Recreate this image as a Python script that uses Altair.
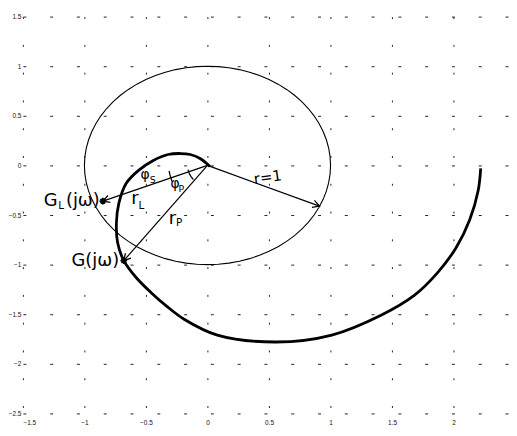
import math
import altair as alt
import pandas as pd

# ---- data ----
# Nyquist curve G(jw) (thick spiral)
spiral_x = [0.02, -0.06, -0.14, -0.22, -0.32, -0.44, -0.56, -0.66, -0.72, -0.74, -0.73,
            -0.68, -0.58, -0.46, -0.33, -0.19, 0.08, 0.56, 1.01, 1.41, 1.68, 1.87,
            2.02, 2.13, 2.20, 2.22]
spiral_y = [-0.01, 0.07, 0.11, 0.12, 0.11, 0.05, -0.05, -0.18, -0.38, -0.58, -0.78,
            -0.96, -1.13, -1.28, -1.42, -1.55, -1.71, -1.78, -1.71, -1.51, -1.31, -1.08,
            -0.83, -0.55, -0.25, -0.03]

circle_radius = 1.0

# arrows from the origin
arrow_tip_x = [0.91, -0.85, -0.68]
arrow_tip_y = [-0.41, -0.36, -0.96]

# marked points G_L(jw), G(jw)
mark_x = [-0.85, -0.68]
mark_y = [-0.36, -0.96]

# small angle arcs (pixel radius, start/end angle in degrees)
arc_radius_px = [39, 20]
arc_start_deg = [188, 192]
arc_end_deg = [205, 225]

# labels
main_text = ["G", "(jω)", "G(jω)", "r", "r"]
main_x = [-1.33, -1.15, -1.105, -0.62, -0.315]
main_y = [-0.36, -0.36, -0.96, -0.34, -0.54]
sub_text = ["L", "L", "P"]
sub_x = [-1.212, -0.56, -0.255]
sub_y = [-0.41, -0.41, -0.58]
phi_text = ["φ", "φ"]
phi_x = [-0.545, -0.30]
phi_y = [-0.10, -0.19]
phisub_text = ["S", "P"]
phisub_x = [-0.47, -0.235]
phisub_y = [-0.15, -0.24]
r1_text = ["r=1"]
r1_x = [0.49]
r1_y = [-0.12]

x_ticks = [-1.5, -1, -0.5, 0, 0.5, 1, 1.5, 2]
y_ticks = [-2.5, -2, -1.5, -1, -0.5, 0, 0.5, 1, 1.5]

# ---- layout ----
XMIN, XMAX = -1.5, 2.45
YMIN, YMAX = -2.5, 1.5
W, H = 490, 400
PXX = W / (XMAX - XMIN)
PXY = H / (YMAX - YMIN)

FONT = "DejaVu Sans"

xs = alt.Scale(domain=[XMIN, XMAX], nice=False, zero=False)
ys = alt.Scale(domain=[YMIN, YMAX], nice=False, zero=False)
ax_common = dict(format="~g", grid=True, gridColor="#222",
                 gridWidth=1, domain=False, ticks=False, labelFontSize=6.5,
                 labelFont="Liberation Sans", labelColor="#111", title=None)
X = lambda f: alt.X(f, type="quantitative", scale=xs,
                    axis=alt.Axis(values=x_ticks, labelPadding=6, gridDash=[2, 26],
                                  **ax_common))
Y = lambda f: alt.Y(f, type="quantitative", scale=ys,
                    axis=alt.Axis(values=y_ticks, labelPadding=2, minExtent=13,
                                  maxExtent=13, gridDash=[3, 24], **ax_common))

# spiral
spiral_df = pd.DataFrame({"x": spiral_x, "y": spiral_y, "o": range(len(spiral_x))})
spiral = alt.Chart(spiral_df).mark_line(color="black", strokeWidth=2.8,
                                        interpolate="catmull-rom").encode(
    x=X("x"), y=Y("y"), order="o:Q")

# unit circle
angs = [i * 5 for i in range(73)]
circle_df = pd.DataFrame({
    "x": [circle_radius * math.cos(math.radians(a)) for a in angs],
    "y": [circle_radius * math.sin(math.radians(a)) for a in angs],
    "o": list(range(len(angs)))})
circle = alt.Chart(circle_df).mark_line(color="black", strokeWidth=1.1).encode(
    x=X("x"), y=Y("y"), order="o:Q")

# arrows
arr_df = pd.DataFrame({"x0": [0.0] * 3, "y0": [0.0] * 3,
                       "x1": arrow_tip_x, "y1": arrow_tip_y})
arr_df["ang"] = [(math.degrees(math.atan2(-y * PXY, x * PXX)) + 360) % 360
                 for x, y in zip(arrow_tip_x, arrow_tip_y)]
shafts = alt.Chart(arr_df).mark_rule(color="black", strokeWidth=1.2).encode(
    x=X("x0"), y=Y("y0"), x2="x1", y2="y1")
heads = alt.Chart(arr_df).mark_point(shape="M-1,-0.55L0,0L-1,0.55", filled=False,
                                     color="black", strokeWidth=1.3, size=180,
                                     opacity=1).encode(
    x=X("x1"), y=Y("y1"), angle=alt.Angle("ang:Q", scale=None))

# star markers
mk_df = pd.DataFrame({"x": mark_x, "y": mark_y})
stars = alt.Chart(mk_df).mark_point(
    shape="M-1,0L1,0M0,-1L0,1M-0.7,-0.7L0.7,0.7M-0.7,0.7L0.7,-0.7",
    filled=False, color="black", strokeWidth=1.8, size=45, opacity=1).encode(
    x=X("x"), y=Y("y"))

# angle arcs
arc_rows = []
for k, (rp, a0, a1) in enumerate(zip(arc_radius_px, arc_start_deg, arc_end_deg)):
    n = 10
    for i in range(n + 1):
        a = math.radians(a0 + (a1 - a0) * i / n)
        arc_rows.append({"k": k, "o": i, "x": rp / PXX * math.cos(a),
                         "y": rp / PXY * math.sin(a)})
arcs = alt.Chart(pd.DataFrame(arc_rows)).mark_line(color="black", strokeWidth=1.3).encode(
    x=X("x"), y=Y("y"), detail="k:N", order="o:Q")


def texts(t, xv, yv, size, **kw):
    df = pd.DataFrame({"t": t, "x": xv, "y": yv})
    return alt.Chart(df).mark_text(font=FONT, fontSize=size, color="black",
                                   baseline="middle", **kw).encode(
        x=X("x"), y=Y("y"), text="t:N")


labels = [
    texts(main_text, main_x, main_y, 18, align="left"),
    texts(sub_text, sub_x, sub_y, 10.5, align="left"),
    texts(phi_text, phi_x, phi_y, 14, align="left"),
    texts(phisub_text, phisub_x, phisub_y, 9.5, align="left"),
    texts(r1_text, r1_x, r1_y, 15, align="center", angle=352),
]

chart = alt.layer(circle, spiral, arcs, shafts, heads, stars, *labels).properties(
    width=W, height=H, padding={"left": 0, "top": 4, "right": 0, "bottom": 0},
    background="white"
).configure_view(stroke=None)

chart.save("out.html", embed_options={"renderer": "svg", "actions": False})
